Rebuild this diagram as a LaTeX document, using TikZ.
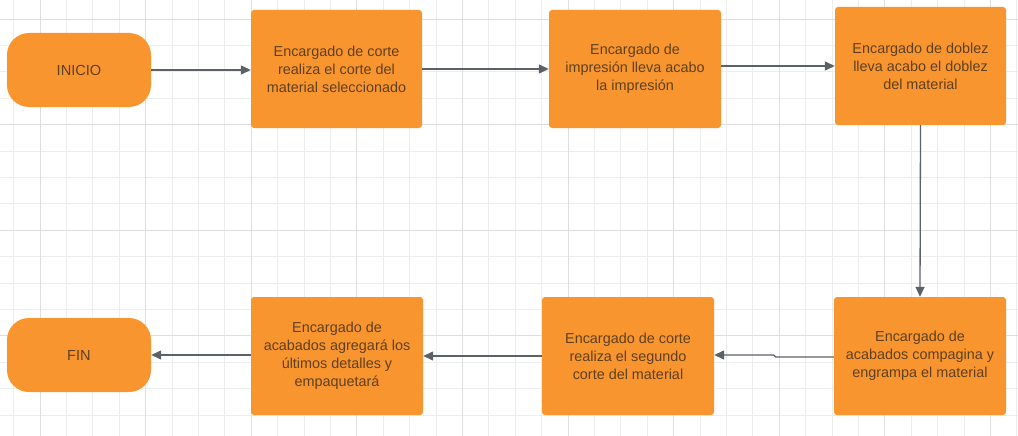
\documentclass[tikz,border=0pt]{standalone}
\usepackage{fontspec}
\setmainfont{Liberation Sans}
\usetikzlibrary{arrows.meta,calc}
\definecolor{boxorange}{HTML}{F9952F}
\definecolor{boxtext}{HTML}{5E4020}
\definecolor{arrowgray}{HTML}{5C6168}
\definecolor{gridminor}{HTML}{EDEDED}
\definecolor{gridmajor}{HTML}{DEDEDE}
\tikzset{
  procbox/.style={fill=boxorange, draw=none, rounded corners=3pt, minimum width=172pt, minimum height=118pt,
    text=boxtext, align=center, font=\fontsize{14.4}{18}\selectfont, inner sep=0pt},
  termbox/.style={fill=boxorange, draw=none, rounded corners=22pt, minimum width=144pt, minimum height=74pt,
    text=boxtext, align=center, font=\fontsize{14.6}{18}\selectfont, inner sep=0pt},
  arr/.style={draw=arrowgray, line width=1.3pt, -{Triangle[length=10pt,width=9pt]}},
}
\begin{document}
\begin{tikzpicture}[x=1pt,y=-1pt]
\useasboundingbox (0,0) rectangle (1018,436);
\fill[white] (0,0) rectangle (1018,436);
% grid
\foreach \i in {0,...,38} {
  \pgfmathsetmacro{\gx}{13.6+26.4*\i}
  \draw[gridminor, line width=0.8pt] (\gx,0) -- (\gx,436);
}
\foreach \j in {0,...,15} {
  \pgfmathsetmacro{\gy}{19+26.4*\j}
  \draw[gridminor, line width=0.8pt] (0,\gy) -- (1018,\gy);
}
\foreach \k in {0,...,9} {
  \pgfmathsetmacro{\gx}{40+105.6*\k}
  \draw[gridmajor, line width=0.9pt] (\gx,0) -- (\gx,436);
}
\foreach \k in {0,...,3} {
  \pgfmathsetmacro{\gy}{19+105.6*\k}
  \draw[gridmajor, line width=0.9pt] (0,\gy) -- (1018,\gy);
}
% nodes
\node[termbox] (inicio) at (79,70) {INICIO};
\node[procbox, minimum width=171pt] (b1) at (336.5,69) {Encargado de corte\\realiza el corte del\\material seleccionado};
\node[procbox] (b2) at (635,69) {Encargado de\\impresión lleva acabo\\la impresión};
\node[procbox, minimum width=171pt] (b3) at (920.5,66) {Encargado de doblez\\lleva acabo el doblez\\del material};
\node[procbox] (b4) at (920,356) {Encargado de\\acabados compagina y\\engrampa el material};
\node[procbox] (b5) at (628,356) {Encargado de corte\\realiza el segundo\\corte del material};
\node[procbox] (b6) at (337,356) {Encargado de\\acabados agregará los\\últimos detalles y\\empaquetará};
\node[termbox] (fin) at (79,355) {FIN};
% connectors
\draw[arr] (inicio.east) -- (inicio.east -| b1.west);
\draw[arr] (b1.east) -- (b2.west);
\draw[arr] (b2.east |- b3.west) -- (b3.west);
\draw[arr] (b3.south) -- (b4.north);
\draw[arr] ($(b4.west)+(0,1)$) -- ++(-58,0) -- ++(-2,-2) -- ($(b5.east)+(0,-1)$);
\draw[arr] (b5.west) -- (b6.east);
\draw[arr] (b6.west |- fin.east) -- (fin.east);
\end{tikzpicture}
\end{document}
